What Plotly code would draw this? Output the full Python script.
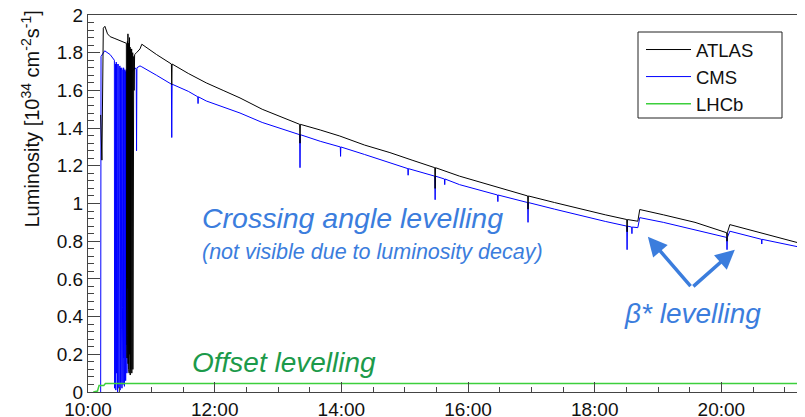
import plotly.graph_objects as go

DAY = "2018-06-01 "

# ---------------- data ----------------
ATLAS_T = [
    "10:12:00", "10:12:20", "10:12:40", "10:13:10", "10:14:30", "10:16:00", "10:18:30", "10:21:00",
    "10:25:30", "10:31:50", "10:36:00", "10:36:20", "10:36:30", "10:36:50", "10:37:00", "10:37:20",
    "10:37:30", "10:37:50", "10:38:00", "10:38:20", "10:38:30", "10:38:50", "10:39:00", "10:39:20",
    "10:39:30", "10:39:50", "10:40:00", "10:40:20", "10:40:30", "10:40:50", "10:41:00", "10:41:20",
    "10:41:30", "10:41:50", "10:42:00", "10:42:20", "10:42:30", "10:42:50", "10:43:00", "10:43:20",
    "10:43:40", "10:44:10", "10:46:00", "10:49:15", "10:51:00", "11:05:00", "11:19:00", "11:19:20",
    "11:19:40", "11:35:00", "11:52:00", "12:08:00", "12:24:00", "12:45:00", "13:02:00", "13:20:30",
    "13:20:50", "13:21:10", "13:40:00", "13:58:30", "14:22:00", "14:46:00", "15:07:00", "15:28:30",
    "15:28:50", "15:29:10", "15:52:00", "16:14:00", "16:35:00", "16:56:30", "16:56:50", "16:57:10",
    "17:22:00", "17:48:30", "18:10:00", "18:30:20", "18:30:40", "18:31:00", "18:40:50", "18:42:40",
    "19:05:00", "19:35:00", "20:05:00", "20:05:20", "20:05:40", "20:08:00", "20:40:00", "21:17:10",
]
ATLAS_V = [
    1.47, 1.40, 1.46, 1.23, 1.93, 1.94, 1.90, 1.885,
    1.875, 1.86, 1.85, 1.85, 0.60, 1.84, 0.18, 1.86,
    0.55, 1.90, 0.15, 1.85, 0.12, 1.84, 0.10, 1.88,
    0.20, 1.83, 0.09, 1.82, 0.12, 1.80, 0.50, 1.82,
    0.10, 1.78, 0.15, 1.80, 0.12, 1.75, 0.60, 1.78,
    1.60, 1.79, 1.80, 1.82, 1.845, 1.79, 1.74, 1.63,
    1.74, 1.69, 1.64, 1.60, 1.56, 1.50, 1.46, 1.42,
    1.32, 1.42, 1.39, 1.358, 1.31, 1.27, 1.23, 1.19,
    1.08, 1.19, 1.145, 1.11, 1.075, 1.04, 0.97, 1.04,
    1.005, 0.968, 0.94, 0.915, 0.85, 0.915, 0.906, 0.968,
    0.94, 0.90, 0.845, 0.80, 0.845, 0.888, 0.84, 0.785,
]

CMS_T = [
    "10:12:00", "10:12:20", "10:15:50", "10:21:00", "10:25:00", "10:25:10", "10:25:35", "10:25:45",
    "10:26:10", "10:26:20", "10:26:45", "10:26:55", "10:27:20", "10:27:30", "10:27:55", "10:28:05",
    "10:28:30", "10:28:40", "10:29:05", "10:29:15", "10:29:40", "10:29:50", "10:30:15", "10:30:25",
    "10:30:50", "10:31:00", "10:31:25", "10:31:35", "10:32:00", "10:32:10", "10:32:35", "10:32:45",
    "10:33:10", "10:33:20", "10:33:45", "10:33:55", "10:34:20", "10:34:30", "10:34:55", "10:35:05",
    "10:35:30", "10:35:40", "10:36:05", "10:36:15", "10:36:40", "10:36:50", "10:37:15", "10:37:25",
    "10:37:50", "10:40:40", "10:44:30", "10:45:40", "10:46:00", "10:46:20", "10:49:15", "10:51:00",
    "11:05:00", "11:19:00", "11:19:20", "11:19:40", "11:35:00", "11:44:00", "11:44:15", "11:44:30",
    "11:52:00", "12:08:00", "12:24:00", "12:45:00", "13:02:00", "13:20:30", "13:20:50", "13:21:10",
    "13:40:00", "13:59:00", "13:59:15", "13:59:30", "14:22:00", "14:46:00", "15:03:00", "15:03:15",
    "15:03:30", "15:28:30", "15:28:50", "15:29:10", "15:37:40", "15:37:55", "15:38:10", "15:52:00",
    "16:14:00", "16:28:00", "16:28:15", "16:28:30", "16:56:30", "16:56:50", "16:57:10", "17:22:00",
    "17:48:30", "18:10:00", "18:30:20", "18:30:40", "18:31:00", "18:35:00", "18:35:15", "18:35:30",
    "18:40:50", "18:42:40", "19:05:00", "19:35:00", "20:05:00", "20:05:20", "20:05:40", "20:08:00",
    "20:38:00", "20:38:15", "20:38:30", "21:17:10", "21:17:30",
]
CMS_V = [
    0.0, 1.78, 1.81, 1.79, 1.76, 0.02, 1.75, 0.05,
    1.74, 0.01, 1.75, 0.10, 1.74, 0.03, 1.73, 0.00,
    1.74, 0.15, 1.73, 0.02, 1.72, 0.63, 1.73, 0.01,
    1.72, 0.05, 1.72, 0.33, 1.72, 0.02, 1.71, 0.45,
    1.71, 0.04, 1.72, 0.18, 1.71, 0.03, 1.70, 0.20,
    1.70, 0.06, 1.71, 0.25, 1.70, 0.10, 1.70, 0.30,
    1.69, 1.69, 1.72, 1.71, 1.28, 1.72, 1.73, 1.725,
    1.68, 1.633, 1.35, 1.633, 1.595, 1.566, 1.53, 1.566,
    1.544, 1.51, 1.48, 1.43, 1.40, 1.365, 1.19, 1.365,
    1.33, 1.30, 1.25, 1.30, 1.26, 1.218, 1.185, 1.15,
    1.185, 1.145, 1.02, 1.145, 1.13, 1.10, 1.13, 1.10,
    1.065, 1.045, 1.01, 1.045, 1.005, 0.90, 1.005, 0.97,
    0.932, 0.905, 0.88, 0.755, 0.88, 0.875, 0.84, 0.875,
    0.872, 0.925, 0.90, 0.86, 0.82, 0.755, 0.82, 0.853,
    0.81, 0.785, 0.81, 0.765, 0.0,
]

LHCB_T = ["10:05:00", "10:09:00", "10:10:30", "10:15:00", "10:16:30", "21:17:00", "21:17:30"]
LHCB_V = [0.0, 0.005, 0.035, 0.035, 0.045, 0.045, 0.0]

X_TICK_LABELS = ["10:00", "12:00", "14:00", "16:00", "18:00", "20:00"]
Y_TICK_VALUES = [0, 0.2, 0.4, 0.6, 0.8, 1.0, 1.2, 1.4, 1.6, 1.8, 2.0]
Y_TICK_LABELS = ["0", "0.2", "0.4", "0.6", "0.8", "1", "1.2", "1.4", "1.6", "1.8", "2"]
X_RANGE = ["10:00:00", "21:19:12"]

# ---------------- figure ----------------
FONT = "Liberation Sans, Arial, Helvetica, sans-serif"
BLUE_TXT = "#3b7ddd"
GREEN_TXT = "#1c9a4a"

# the page body has an 8px default margin: size the figure so the plot lands where the reference has it
W, H = 797, 409
ML, MT, MB, MR = 80, 7, 25, 0
PW, PH = W - ML - MR, H - MT - MB


def ts(lst):
    return [DAY + t for t in lst]


fig = go.Figure()
fig.add_trace(go.Scatter(x=ts(CMS_T), y=CMS_V, mode="lines", name="CMS",
                         line=dict(color="#0000ff", width=1), legendrank=2))
fig.add_trace(go.Scatter(x=ts(ATLAS_T), y=ATLAS_V, mode="lines", name="ATLAS",
                         line=dict(color="#000000", width=1), legendrank=1))
fig.add_trace(go.Scatter(x=ts(LHCB_T), y=LHCB_V, mode="lines", name="LHCb",
                         line=dict(color="#3ccf3c", width=1.5), legendrank=3))

axis_color = "#444444"
fig.update_xaxes(
    type="date", range=ts(X_RANGE), automargin=False, ticklabeloverflow="allow",
    tickvals=ts([t + ":00" for t in X_TICK_LABELS]), ticktext=X_TICK_LABELS,
    ticks="inside", ticklen=10, tickcolor=axis_color,
    minor=dict(dtick=30 * 60 * 1000, tick0=DAY + "10:00:00", ticks="inside", ticklen=5, tickcolor=axis_color),
    showline=True, linecolor=axis_color, linewidth=1, mirror=True,
    showgrid=False, zeroline=False,
    tickfont=dict(family=FONT, size=19, color="#111"),
)
fig.update_yaxes(
    range=[0, 2], tickvals=Y_TICK_VALUES, ticktext=Y_TICK_LABELS, automargin=False,
    ticklabeloverflow="allow",
    ticks="inside", ticklen=12, tickcolor=axis_color,
    minor=dict(dtick=0.04, tick0=0, ticks="inside", ticklen=6, tickcolor=axis_color),
    showline=True, linecolor=axis_color, linewidth=1, mirror=False,
    showgrid=False, zeroline=False,
    tickfont=dict(family=FONT, size=19, color="#111"),
)


def px_x(p):  # page pixel -> paper fraction (horizontal)
    return (p - 8 - ML) / PW


def px_y(p):  # page pixel -> paper fraction (vertical)
    return (H - MB - (p - 8)) / PH


annotations = [
    dict(x=px_x(30), y=px_y(9), xref="paper", yref="paper", xanchor="center", yanchor="top",
         text="Luminosity [10<sup>34</sup> cm<sup>-2</sup>s<sup>-1</sup>]", textangle=-90,
         showarrow=False, font=dict(family=FONT, size=20, color="#111")),
    dict(x=DAY + "11:46:00", y=0.925, xanchor="left", yanchor="middle",
         text="<i>Crossing angle levelling</i>", showarrow=False,
         font=dict(family=FONT, size=28.5, color=BLUE_TXT)),
    dict(x=DAY + "11:46:00", y=0.745, xanchor="left", yanchor="middle",
         text="<i>(not visible due to luminosity decay)</i>", showarrow=False,
         font=dict(family=FONT, size=21.5, color=BLUE_TXT)),
    dict(x=DAY + "18:25:40", y=0.415, xanchor="left", yanchor="middle",
         text="<i>β* levelling</i>", showarrow=False,
         font=dict(family=FONT, size=28, color=BLUE_TXT)),
    dict(x=DAY + "11:36:30", y=0.155, xanchor="left", yanchor="middle",
         text="<i>Offset levelling</i>", showarrow=False,
         font=dict(family=FONT, size=28, color=GREEN_TXT)),
    dict(x=DAY + "18:50:20", y=0.824, ax=44, ay=51, text="", showarrow=True,
         arrowhead=2, arrowsize=1.1, arrowwidth=3.5, arrowcolor=BLUE_TXT),
    dict(x=DAY + "20:12:45", y=0.755, ax=-43, ay=38, text="", showarrow=True,
         arrowhead=2, arrowsize=1.1, arrowwidth=3.5, arrowcolor=BLUE_TXT),
]

# legend frame drawn as a rectangle at the reference position
shapes = [
    dict(type="rect", xref="paper", yref="paper",
         x0=px_x(638), x1=px_x(782), y0=px_y(118), y1=px_y(32),
         line=dict(color="#222", width=1), fillcolor="rgba(0,0,0,0)", layer="above"),
]

fig.update_layout(
    width=W, height=H,
    margin=dict(l=ML, r=MR, t=MT, b=MB),
    paper_bgcolor="white", plot_bgcolor="white",
    font=dict(family=FONT, color="#111"),
    annotations=annotations, shapes=shapes,
    legend=dict(x=px_x(641), y=px_y(31), xanchor="left", yanchor="top",
                borderwidth=0, bgcolor="rgba(0,0,0,0)",
                font=dict(family=FONT, size=18.5, color="#111"),
                itemwidth=45, traceorder="normal"),
    showlegend=True,
)

fig.write_html("out.html")
